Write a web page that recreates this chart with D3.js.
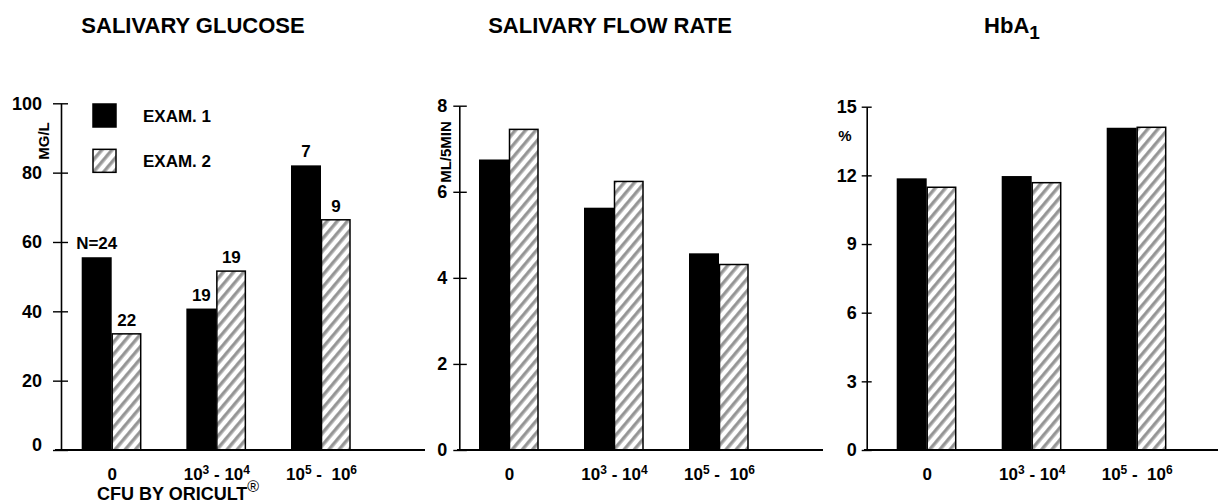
<!DOCTYPE html>
<html>
<head>
<meta charset="utf-8">
<script src="https://cdn.jsdelivr.net/npm/d3@7/dist/d3.min.js"></script>
<style>
  html, body { margin: 0; padding: 0; background: #fff; }
  svg { display: block; }
  text { font-family: "Liberation Sans", Arial, Helvetica, sans-serif; font-weight: bold; fill: #000; }
</style>
</head>
<body>
<svg id="chart" width="1218" height="503"></svg>
<script>
// ---------- DATA ----------
const categories = ["0", "10^3 - 10^4", "10^5 -  10^6"];
const series = ["EXAM. 1", "EXAM. 2"];

const glucoseExam1 = [55.6, 40.8, 82.1];
const glucoseExam2 = [33.5, 51.6, 66.4];
const glucoseN1 = ["N=24", "19", "7"];
const glucoseN2 = ["22", "19", "9"];
const glucoseTicks = [0, 20, 40, 60, 80, 100];

const flowExam1 = [6.75, 5.63, 4.57];
const flowExam2 = [7.45, 6.24, 4.31];
const flowTicks = [0, 2, 4, 6, 8];

const hbaExam1 = [11.87, 11.97, 14.08];
const hbaExam2 = [11.48, 11.68, 14.1];
const hbaTicks = [0, 3, 6, 9, 12, 15];

const titles = ["SALIVARY GLUCOSE", "SALIVARY FLOW RATE", "HbA_1"];
const unitLabels = ["MG/L", "ML/5MIN", "%"];
const xAxisTitle = "CFU BY ORICULT";

// ---------- LAYOUT ----------
const svg = d3.select("#chart");
const baseY = 450;

const defs = svg.append("defs");
const pat = defs.append("pattern")
  .attr("id", "hatch").attr("patternUnits", "userSpaceOnUse")
  .attr("width", 7.8).attr("height", 10)
  .attr("patternTransform", "rotate(40)");
pat.append("rect").attr("width", 7.8).attr("height", 10).attr("fill", "#fff");
pat.append("line").attr("x1", 2).attr("x2", 2).attr("y1", 0).attr("y2", 10)
  .attr("stroke", "#000").attr("stroke-width", 0.8);
pat.append("line").attr("x1", 3.8).attr("x2", 3.8).attr("y1", 0).attr("y2", 10)
  .attr("stroke", "#000").attr("stroke-width", 0.6);

const panels = [
  { title: titles[0], titleX: 193, unit: unitLabels[0], a: glucoseExam1, b: glucoseExam2,
    ticks: glucoseTicks, max: 100, axisX: 61, top: 103.3, c0: 111.7, c2: 321,
    tickIn: 8, tickOut: 7, pad: 11, baseFrom: 55, baseTo: 425,
    unitRot: true, unitX: 44, unitY: 141, nA: glucoseN1, nB: glucoseN2 },
  { title: titles[1], titleX: 610, unit: unitLabels[1], a: flowExam1, b: flowExam2,
    ticks: flowTicks, max: 8, axisX: 459.3, top: 105.7, c0: 509, c2: 719,
    tickIn: 6, tickOut: 7.5, pad: 6, baseFrom: 457, baseTo: 823,
    unitRot: true, unitX: 445.5, unitY: 152 },
  { title: titles[2], titleX: 1012, unit: unitLabels[2], a: hbaExam1, b: hbaExam2,
    ticks: hbaTicks, max: 15, axisX: 866.7, top: 106.7, c0: 926.7, c2: 1136.7,
    tickIn: 5, tickOut: 5, pad: 5, baseFrom: 864, baseTo: 1218,
    unitRot: false, unitX: 845, unitY: 141 }
];

function richText(sel, str, supSize, shift) {
  // parse ^x (superscript) and _x (subscript); shifts are carried to next tspan
  const parts = str.split(/([\^_]\d)/).filter(s => s.length);
  let pending = 0;
  parts.forEach(p => {
    let ts;
    if (p[0] === "^" || p[0] === "_") {
      const off = p[0] === "^" ? -shift : shift;
      ts = sel.append("tspan").attr("font-size", supSize).text(p[1]);
      ts.attr("dy", pending + off);
      pending = -off;
    } else {
      ts = sel.append("tspan").text(p);
      if (pending) ts.attr("dy", pending);
      pending = 0;
    }
  });
}

panels.forEach((p, pi) => {
  const g = svg.append("g");
  const y = d3.scaleLinear().domain([0, p.max]).range([baseY, p.top]);
  const x0 = d3.scalePoint().domain(categories).range([p.c0, p.c2]);
  const x1 = d3.scaleBand().domain(series).range([-30, 30]).padding(0);

  // title
  const t = g.append("text").attr("x", p.titleX).attr("y", 33)
    .attr("text-anchor", "middle").attr("font-size", 22);
  richText(t, p.title, 19, 6);

  // bars
  const rows = categories.map((c, i) => ({ c, i, a: p.a[i], b: p.b[i] }));
  g.selectAll("rect.b1").data(rows).enter().append("rect")
    .attr("x", d => x0(d.c) + x1(series[0]))
    .attr("width", x1.bandwidth())
    .attr("y", d => y(d.a))
    .attr("height", d => baseY - y(d.a))
    .attr("fill", "#000");
  g.selectAll("rect.b2").data(rows).enter().append("rect")
    .attr("x", d => x0(d.c) + x1(series[1]) + 0.5)
    .attr("width", x1.bandwidth() - 1.5)
    .attr("y", d => y(d.b))
    .attr("height", d => baseY - y(d.b))
    .attr("fill", "url(#hatch)")
    .attr("stroke", "#000").attr("stroke-width", 1.5);

  // N labels
  if (p.nA) {
    g.selectAll("text.na").data(rows).enter().append("text")
      .attr("x", d => x0(d.c) + x1(series[0]) + x1.bandwidth() / 2)
      .attr("y", d => y(d.a) - 8)
      .attr("text-anchor", "middle").attr("font-size", 17)
      .text(d => p.nA[d.i]);
    g.selectAll("text.nb").data(rows).enter().append("text")
      .attr("x", d => x0(d.c) + x1(series[1]) + x1.bandwidth() / 2)
      .attr("y", d => y(d.b) - 8)
      .attr("text-anchor", "middle").attr("font-size", 17)
      .text(d => p.nB[d.i]);
  }

  // y axis
  const ya = g.append("g").attr("transform", `translate(${p.axisX},0)`)
    .call(d3.axisLeft(y).tickValues(p.ticks).tickFormat(d3.format("d"))
      .tickSizeInner(p.tickIn).tickSizeOuter(0).tickPadding(p.pad));
  ya.attr("font-size", 18).attr("font-family", '"Liberation Sans", Arial, sans-serif');
  ya.select(".domain").attr("stroke", "#000").attr("stroke-width", 1.6);
  ya.selectAll(".tick line").attr("x1", p.tickOut).attr("stroke", "#000").attr("stroke-width", 1.4);
  ya.selectAll(".tick text").attr("font-size", 18).attr("font-weight", "bold").attr("fill", "#000");
  if (pi === 0) ya.selectAll(".tick text").filter(d => d === 0).attr("dy", "0.02em");

  // x baseline
  g.append("line").attr("x1", p.baseFrom).attr("x2", p.baseTo)
    .attr("y1", baseY).attr("y2", baseY).attr("stroke", "#000").attr("stroke-width", 2.2);

  // x tick labels
  const xa = g.append("g").attr("transform", `translate(0,${baseY})`)
    .call(d3.axisBottom(x0).tickSize(0).tickPadding(0).tickFormat(() => ""));
  xa.attr("font-size", 17).attr("font-family", '"Liberation Sans", Arial, sans-serif');
  xa.select(".domain").remove();
  xa.selectAll(".tick text").each(function (d) {
    const s = d3.select(this).attr("y", 30).attr("dy", 0)
      .attr("font-size", 17).attr("font-weight", "bold").attr("fill", "#000")
      .style("white-space", "pre");
    richText(s, d, 12, 6);
  });

  // unit label
  if (p.unitRot) {
    g.append("text").attr("transform", `translate(${p.unitX},${p.unitY}) rotate(-90)`)
      .attr("text-anchor", "middle").attr("dy", "0.35em").attr("font-size", 15)
      .text(p.unit);
  } else {
    g.append("text").attr("x", p.unitX).attr("y", p.unitY)
      .attr("text-anchor", "middle").attr("font-size", 15).text(p.unit);
  }

  // legend in first panel
  if (pi === 0) {
    const ly = d3.scaleBand().domain(series).range([104, 172]).paddingInner(0.5);
    const lg = g.append("g");
    series.forEach((s, si) => {
      lg.append("rect").attr("x", 93).attr("y", ly(s)).attr("width", 23).attr("height", 23)
        .attr("fill", si === 0 ? "#000" : "url(#hatch)")
        .attr("stroke", "#000").attr("stroke-width", 1.5);
      lg.append("text").attr("x", 143).attr("y", ly(s) + 18).attr("font-size", 17).text(s);
    });
    const xt = g.append("text").attr("x", 97).attr("y", 500).attr("font-size", 18);
    xt.append("tspan").text(xAxisTitle);
    xt.append("tspan").attr("dy", -8).attr("font-size", 16).attr("font-weight", "normal").text("\u00AE");
  }
});
</script>
</body>
</html>
